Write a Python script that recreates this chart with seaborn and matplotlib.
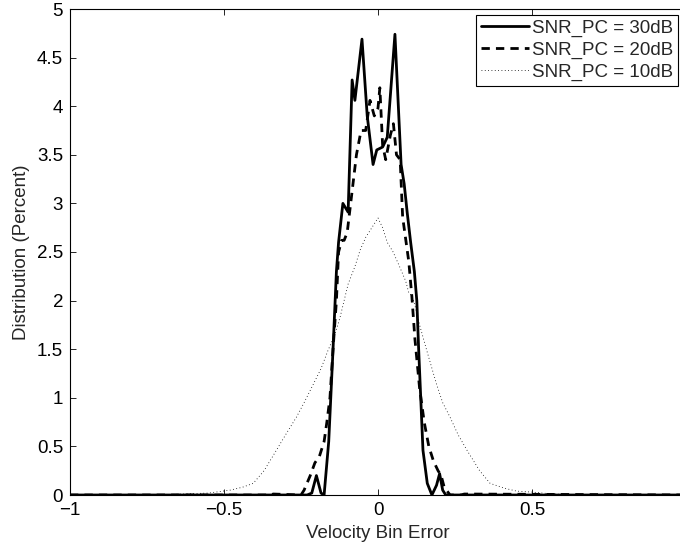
import matplotlib
matplotlib.use("Agg")
import matplotlib.pyplot as plt
import seaborn as sns
import pandas as pd

# ---- data ----
x30 = [-1.0, -0.23, -0.215, -0.2, -0.185, -0.175, -0.16, -0.146, -0.135, -0.128,
       -0.114, -0.097, -0.084, -0.075, -0.052, -0.035, -0.016, -0.004, 0.015, 0.03,
       0.055, 0.075, 0.085, 0.095, 0.106, 0.118, 0.126, 0.132, 0.146, 0.16, 0.175,
       0.19, 0.2, 0.21, 0.22, 1.0]
y30 = [0.0, 0.0, 0.02, 0.2, 0.02, 0.0, 0.55, 1.5, 2.3, 2.6,
       3.0, 2.91, 4.27, 4.06, 4.69, 3.9, 3.4, 3.55, 3.58, 3.68,
       4.74, 3.4, 3.2, 2.9, 2.6, 2.3, 2.0, 1.5, 0.46, 0.12, 0.0,
       0.1, 0.22, 0.05, 0.0, 0.0]

x20 = [-1.0, -0.35, -0.34, -0.25, -0.24, -0.22, -0.205, -0.19, -0.175, -0.166,
       -0.156, -0.146, -0.135, -0.128, -0.118, -0.11, -0.1, -0.085, -0.07, -0.055,
       -0.04, -0.026, -0.012, 0.0, 0.006, 0.015, 0.025, 0.04, 0.05, 0.06,
       0.072, 0.08, 0.1, 0.11, 0.12, 0.135, 0.15, 0.165, 0.18, 0.195,
       0.205, 0.215, 0.234, 0.27, 0.28, 1.0]
y20 = [0.0, 0.0, 0.01, 0.0, 0.05, 0.2, 0.33, 0.4, 0.55, 0.75,
       1.0, 1.5, 2.0, 2.5, 2.62, 2.62, 2.7, 3.1, 3.5, 3.75,
       3.75, 4.06, 3.9, 3.98, 4.19, 3.6, 3.45, 3.7, 3.82, 3.5,
       3.45, 2.86, 2.4, 2.04, 1.6, 1.1, 0.75, 0.5, 0.35, 0.25,
       0.2, 0.08, 0.0, 0.0, 0.01, 0.0]

x10 = [-1.0, -0.7, -0.64, -0.55, -0.48, -0.44, -0.405, -0.37, -0.33, -0.3,
       -0.265, -0.24, -0.21, -0.185, -0.162, -0.14, -0.123, -0.097, -0.075, -0.058,
       -0.04, -0.02, 0.0, 0.015, 0.03, 0.049, 0.07, 0.09, 0.1, 0.11,
       0.12, 0.135, 0.158, 0.19, 0.21, 0.234, 0.26, 0.289, 0.33, 0.364,
       0.41, 0.45, 0.5, 0.55, 0.6, 0.65, 1.0]
y10 = [0.0, 0.0, 0.01, 0.02, 0.05, 0.08, 0.12, 0.25, 0.46, 0.62,
       0.8, 0.95, 1.14, 1.3, 1.49, 1.65, 1.83, 2.17, 2.35, 2.52,
       2.65, 2.75, 2.85, 2.75, 2.6, 2.5, 2.35, 2.2, 2.08, 2.05,
       1.95, 1.75, 1.49, 1.14, 0.95, 0.8, 0.62, 0.46, 0.25, 0.12,
       0.07, 0.04, 0.03, 0.015, 0.005, 0.0, 0.0]

labels = ["SNR_PC = 30dB", "SNR_PC = 20dB", "SNR_PC = 10dB"]
xticks = [-1, -0.5, 0, 0.5, 1]
xtick_labels = ["\u22121", "\u22120.5", "0", "0.5", "1"]
yticks = [0, 0.5, 1, 1.5, 2, 2.5, 3, 3.5, 4, 4.5, 5]
ytick_labels = ["0", "0.5", "1", "1.5", "2", "2.5", "3", "3.5", "4", "4.5", "5"]

sns.set_style("ticks")
plt.rcParams["font.family"] = ["Liberation Sans", "DejaVu Sans"]
FS = 13.5

fig = plt.figure(figsize=(6.8, 5.46), dpi=100)
ax = fig.add_axes([70 / 680, 1 - 495 / 546, 616 / 680, 486 / 546])

d30 = pd.DataFrame({"x": x30, "y": y30})
d20 = pd.DataFrame({"x": x20, "y": y20})
d10 = pd.DataFrame({"x": x10, "y": y10})

sns.lineplot(data=d30, x="x", y="y", ax=ax, color="black", linewidth=2.0,
             linestyle="-", label=labels[0], sort=False, estimator=None)
sns.lineplot(data=d20, x="x", y="y", ax=ax, color="black", linewidth=2.0,
             linestyle=(0, (3, 2.2)), label=labels[1], sort=False, estimator=None)
sns.lineplot(data=d10, x="x", y="y", ax=ax, color="black", linewidth=0.6,
             linestyle=(0, (1, 3)), label=labels[2], sort=False, estimator=None)

ax.set_xlim(-1, 1)
ax.set_ylim(0, 5)
ax.set_xticks(xticks)
ax.set_xticklabels(xtick_labels)
ax.set_yticks(yticks)
ax.set_yticklabels(ytick_labels)
ax.tick_params(direction="in", length=4, width=0.6, top=True, right=True,
               labelsize=FS, colors="black")
ax.tick_params(axis="x", pad=5)
ax.tick_params(axis="y", pad=5)
for s in ax.spines.values():
    s.set_visible(True)
    s.set_linewidth(0.8)
    s.set_color("black")

ax.set_xlabel("Velocity Bin Error", fontsize=FS, labelpad=4)
ax.set_ylabel("Distribution (Percent)", fontsize=FS, labelpad=5)

leg = ax.legend(loc="upper right", bbox_to_anchor=(678 / 680, 1 - 15 / 546),
                bbox_transform=fig.transFigure, frameon=True, fancybox=False,
                edgecolor="black", framealpha=1, fontsize=FS,
                handlelength=2.6, handletextpad=0.15, labelspacing=0.25,
                borderpad=0.25, borderaxespad=0)
leg.get_frame().set_linewidth(0.8)

fig.savefig("out.png", dpi=100)
